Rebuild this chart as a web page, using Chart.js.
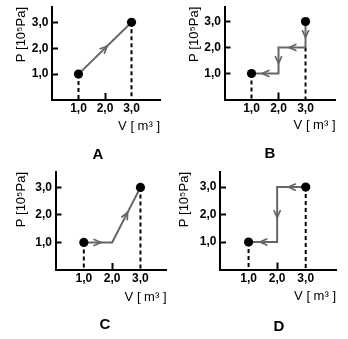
<!DOCTYPE html>
<html><head><meta charset="utf-8">
<script src="https://cdn.jsdelivr.net/npm/chart.js@4/dist/chart.umd.min.js"></script>
<style>
html,body{margin:0;padding:0;background:#fff;width:348px;height:339px;overflow:hidden;position:relative;}
canvas{position:absolute;}
.lab{position:absolute;font:bold 15px "Liberation Sans",Arial,sans-serif;color:#000;transform:translate(-50%,-50%);line-height:1;}
</style></head><body>
<script>
// ---------- data ----------
const xTickValues = [1, 2, 3];
const xTickLabels = ['1,0', '2,0', '3,0'];
const yTickValues = [1, 2, 3];
const yTickLabels = ['1,0', '2,0', '3,0'];
const xTitle = 'V [ m³ ]';
const yTitle = 'P [10⁵Pa]';
const panelNames = ['A', 'B', 'C', 'D'];

// process paths (V in m³, P in 10^5 Pa), in order of the arrows
const pathA_V = [1, 3];
const pathA_P = [1, 3];
const pathB_V = [3, 3, 2, 2, 1];
const pathB_P = [3, 2, 2, 1, 1];
const pathC_V = [1, 2, 3];
const pathC_P = [1, 1, 3];
const pathD_V = [3, 2, 2, 1];
const pathD_P = [3, 3, 1, 1];

// dashed drop lines down to the V axis
const dropA_V = [1, 3];
const dropA_P = [1, 3];
const dropB_V = [1, 3];
const dropB_P = [1, 2];
const dropC_V = [1, 3];
const dropC_P = [1, 3];
const dropD_V = [1, 3];
const dropD_P = [1, 3];

// x tick that carries a small mark
const markedXTick = 2;

// ---------- layout (geometry only) ----------
const panels = [
  {name: panelNames[0], pv: pathA_V, pp: pathA_P, dv: dropA_V, dp: dropA_P,
   cl: 0, ct: 0, w: 174, h: 150, area: [52, 7, 160, 100], xMax: 4.075, yMax: 3.59, tX: 21, vY: 126, lab: [98, 153]},
  {name: panelNames[1], pv: pathB_V, pp: pathB_P, dv: dropB_V, dp: dropB_P,
   cl: 174, ct: 0, w: 174, h: 150, area: [50.5, 6.7, 161.5, 99.5], xMax: 4.11, yMax: 3.57, tX: 20, vY: 125, lab: [270, 152]},
  {name: panelNames[2], pv: pathC_V, pp: pathC_P, dv: dropC_V, dp: dropC_P,
   cl: 0, ct: 165, w: 174, h: 150, area: [55.5, 7, 166.5, 105], xMax: 3.92, yMax: 3.56, tX: 21.5, vY: 132.7, lab: [105, 323]},
  {name: panelNames[3], pv: pathD_V, pp: pathD_P, dv: dropD_V, dp: dropD_P,
   cl: 174, ct: 165, w: 174, h: 150, area: [46, 7, 162, 104.5], xMax: 4.06, yMax: 3.55, tX: 10, vY: 131, lab: [279, 325]}
];

const FONT = '"Liberation Sans", Arial, Helvetica, sans-serif';
const LINE_GRAY = '#666666';
const TITLE_SIZE = 13;

const arrowPlugin = {
  id: 'midArrows',
  afterDatasetsDraw(chart) {
    const meta = chart.getDatasetMeta(1);
    const pts = meta.data;
    const ctx = chart.ctx;
    ctx.save();
    ctx.strokeStyle = LINE_GRAY;
    ctx.lineWidth = 1.7;
    ctx.lineCap = 'round';
    for (let i = 0; i < pts.length - 1; i++) {
      const a = pts[i], b = pts[i + 1];
      const ang = Math.atan2(b.y - a.y, b.x - a.x);
      const tx = (a.x + b.x) / 2 + Math.cos(ang) * 3;
      const ty = (a.y + b.y) / 2 + Math.sin(ang) * 3;
      const L = 7.5, spread = 0.42;
      ctx.beginPath();
      ctx.moveTo(tx - L * Math.cos(ang - spread), ty - L * Math.sin(ang - spread));
      ctx.lineTo(tx, ty);
      ctx.lineTo(tx - L * Math.cos(ang + spread), ty - L * Math.sin(ang + spread));
      ctx.stroke();
    }
    ctx.restore();
  }
};

panels.forEach(p => {
  const cv = document.createElement('canvas');
  cv.width = p.w; cv.height = p.h;
  cv.style.left = p.cl + 'px'; cv.style.top = p.ct + 'px';
  cv.style.width = p.w + 'px'; cv.style.height = p.h + 'px';
  document.body.appendChild(cv);

  const lab = document.createElement('div');
  lab.className = 'lab';
  lab.textContent = p.name;
  lab.style.left = p.lab[0] + 'px'; lab.style.top = p.lab[1] + 'px';
  document.body.appendChild(lab);

  const pathData = p.pv.map((v, i) => ({x: v, y: p.pp[i]}));
  const dots = [pathData[0], pathData[pathData.length - 1]];
  const datasets = [
    {data: dots, showLine: false, pointRadius: 4.6, pointBackgroundColor: '#000', pointBorderWidth: 0, order: 0},
    {data: pathData, showLine: true, borderColor: LINE_GRAY, borderWidth: 2, pointRadius: 0, tension: 0, order: 1}
  ];
  p.dv.forEach((v, i) => {
    datasets.push({data: [{x: v, y: p.dp[i]}, {x: v, y: 0}], showLine: true, borderColor: '#000',
      borderWidth: 2, borderDash: [4, 3], pointRadius: 0, order: 2});
  });

  const [aL, aT, aR, aB] = p.area;
  const half = TITLE_SIZE * 1.2 / 2;
  new Chart(cv, {
    type: 'scatter',
    data: {datasets},
    options: {
      responsive: false, animation: false, devicePixelRatio: 1,
      layout: {padding: {left: 0, top: aT, right: p.w - aR, bottom: 0}},
      plugins: {legend: {display: false}, tooltip: {enabled: false}},
      scales: {
        x: {
          type: 'linear', position: 'bottom', min: 0, max: p.xMax, bounds: 'data',
          afterBuildTicks: s => { s.ticks = xTickValues.map(v => ({value: v})); },
          afterFit: s => { s.height = p.h - aB; s.paddingLeft = 0; s.paddingRight = 0; },
          ticks: {
            callback: (v) => xTickLabels[xTickValues.indexOf(v)],
            font: {family: FONT, size: 12, weight: 'bold'}, color: '#000', padding: 8.5, maxRotation: 0, autoSkip: false
          },
          grid: {drawOnChartArea: false, drawTicks: true, tickLength: -7, tickWidth: 2,
            tickColor: c => (c.tick && c.tick.value === markedXTick) ? '#000' : 'rgba(0,0,0,0)'},
          border: {display: true, color: '#000', width: 2},
          title: {display: true, text: xTitle, align: 'end', color: '#000',
            font: {family: FONT, size: TITLE_SIZE}, padding: {top: 0, bottom: p.h - p.vY - half}}
        },
        y: {
          type: 'linear', position: 'left', min: 0, max: p.yMax, bounds: 'data',
          afterBuildTicks: s => { s.ticks = yTickValues.map(v => ({value: v})); },
          afterFit: s => { s.width = aL; s.paddingTop = 0; s.paddingBottom = 0; },
          ticks: {
            callback: (v) => yTickLabels[yTickValues.indexOf(v)],
            font: {family: FONT, size: 12, weight: 'bold'}, color: '#000', padding: 9.5, autoSkip: false
          },
          grid: {drawOnChartArea: false, drawTicks: true, tickLength: -6, tickWidth: 2, tickColor: '#000'},
          border: {display: true, color: '#000', width: 2},
          title: {display: true, text: yTitle, align: 'end', color: '#000',
            font: {family: FONT, size: TITLE_SIZE}, padding: {top: p.tX - half, bottom: 0}}
        }
      }
    },
    plugins: [arrowPlugin]
  });
});
</script>
</body></html>
